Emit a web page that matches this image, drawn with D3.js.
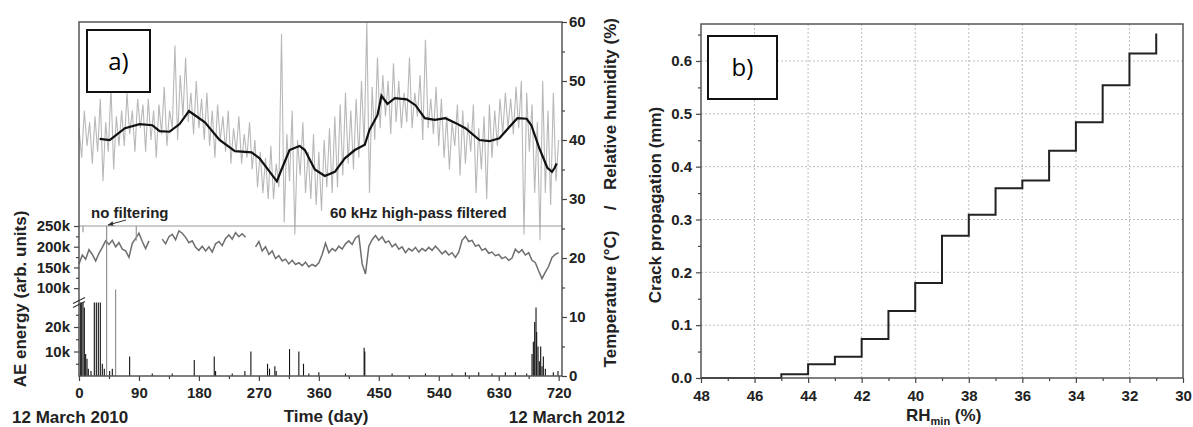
<!DOCTYPE html>
<html>
<head>
<meta charset="utf-8">
<script src="https://cdn.jsdelivr.net/npm/d3@7"></script>
<style>
  body { margin: 0; background: #fff; }
  svg { display: block; font-family: "Liberation Sans", Arial, sans-serif; }
  .tick text { font-weight: bold; font-size: 15px; fill: #222; }
  .tick line { stroke: #444; stroke-width: 1.2; }
  .domain { display: none; }
  .title { font-weight: bold; font-size: 17px; fill: #222; }
</style>
</head>
<body>
<svg id="chart" width="1193" height="427"></svg>
<script>
// ---- panel a: relative humidity (raw, every 4 days from day 0)
var rhRawValues = [
  42, 37, 45, 39, 43, 36, 44, 38,
  47, 33, 43, 38, 49, 35, 44, 39,
  45, 39, 48, 41, 45, 38, 47, 42,
  46, 38, 47, 40, 45, 37, 46, 41,
  49, 39, 45, 42, 56, 40, 51, 44,
  54, 43, 48, 41, 50, 42, 47, 40,
  48, 39, 45, 37, 46, 40, 44, 38,
  45, 36, 42, 38, 44, 36, 41, 37,
  43, 35, 40, 32, 38, 31, 37, 30,
  39, 30, 36, 32, 58, 26, 41, 33,
  45, 24, 40, 34, 43, 31, 38, 30,
  41, 29, 38, 28, 40, 32, 42, 31,
  44, 32, 46, 34, 48, 36, 45, 35,
  47, 37, 50, 39, 60, 31, 49, 40,
  54, 42, 51, 44, 50, 41, 53, 43,
  50, 42, 48, 43, 54, 42, 48, 44,
  51, 40, 57, 42, 47, 41, 49, 39,
  47, 37, 44, 35, 43, 39, 46, 34,
  45, 36, 43, 38, 46, 31, 42, 35,
  44, 30, 46, 37, 45, 39, 47, 41,
  48, 42, 47, 41, 49, 42, 50, 24,
  48, 38, 46, 31, 43, 23, 50, 31,
  45, 29, 48, 33, 40
];
var rhRawDays = d3.range(0, 721, 4);

// smoothed relative humidity
var rhSmoothDays = [31, 46, 69, 91, 110, 121, 136, 151, 165, 174, 189, 211, 234, 259, 271,
  297, 304, 316, 331, 339, 354, 369, 384, 399, 414, 429, 436, 448, 454, 463, 474, 492, 505,
  519, 534, 550, 565, 580, 601, 616, 631, 646, 658, 672, 679, 691, 703, 710, 714, 717];
var rhSmoothValues = [40.2, 40.0, 42.0, 42.7, 42.5, 41.5, 41.4, 42.7, 44.9, 44.2, 43.0, 40.0,
  38.1, 37.9, 36.9, 33.0, 35.0, 38.3, 39.0, 38.3, 35.0, 33.9, 34.6, 36.9, 38.3, 39.2, 41.7,
  44.2, 47.5, 46.1, 47.1, 46.9, 45.9, 43.7, 43.4, 43.7, 42.9, 42.0, 40.0, 39.8, 40.3, 42.2,
  43.7, 43.6, 42.5, 38.6, 35.3, 34.6, 35.3, 36.0];

// temperature (every 5 days, null = no data)
var tempValues = [
  19.0, 20.5, 19.8, 21.4, 20.6, 19.5, 20.8, 21.8, 22.9, 22.3,
  23.0, 21.9, 22.6, 21.5, 21.2, 20.1, 22.5, 23.3, 24.2, 22.8,
  21.6, 22.9, null, null, null, 23.2, 22.4, 23.6, 24.0, 23.1,
  24.6, 24.2, 23.5, 22.6, 22.9, 21.8, 21.3, 22.0, 21.2, 21.9,
  21.0, 22.4, 22.8, 22.1, 23.3, 23.9, 23.2, 24.3, 23.6, 24.1,
  23.5, null, null, 21.9, 22.8, 21.2, 21.9, 20.6, 21.2, 19.9,
  20.4, 19.5, 19.8, 19.0, 19.6, 18.9, 19.2, 18.7, 19.3, 18.5,
  18.9, 18.6, 19.2, 20.6, 22.5, 20.9, 21.6, 21.2, 22.0, 21.5,
  22.4, 22.9, 22.3, 23.4, 23.8, 19.0, 17.3, 22.0, 23.1, 23.8,
  23.0, 23.6, 22.6, 22.9, 21.9, 22.4, 21.5, 21.9, 20.9, 21.6,
  21.2, 21.8, 21.0, 21.6, 21.2, 21.8, 21.3, 22.0, 21.4, 20.7,
  21.2, 20.5, 20.9, 20.1, 21.0, 23.0, 23.7, 22.8, 23.0, 22.0,
  22.2, 21.3, 21.6, 20.8, 21.0, 20.4, 20.6, 19.9, 20.2, 19.6,
  20.0, 21.5, 20.9, 21.4, 20.5, 20.9, 19.6, 19.2, 17.8, 16.5,
  17.6, 18.6, 20.1, 20.6, 20.9
];
var tempDays = d3.range(0, 721, 5);

// AE energy spikes (k arb. units)
var aeDays = [2, 4, 6, 8, 10, 12, 14, 18, 23, 26, 29, 32, 35, 38, 41.5, 46, 50,
  55, 76, 110, 140, 173, 203, 205, 230, 249, 258, 283, 286, 294, 296, 316, 330, 337, 345, 360,
  400, 428, 429, 470, 520, 560, 580, 600, 620, 640, 655, 672, 680, 682, 684, 686, 687, 689,
  691, 693, 695, 697, 700, 712, 719];
var aeValues = [30, 30, 30, 28, 9, 7, 3, 2, 30, 30, 30, 30, 5, 3, 250, 2, 3,
  97, 8, 1, 1, 6.5, 8, 2, 1, 2, 10, 5, 3, 4, 2, 11, 10, 5, 1, 1.5, 1, 11.5, 10, 1, 1, 1, 1.5,
  1.5, 1, 1.5, 1.5, 1, 9, 14, 22, 28, 18, 12, 6, 12, 4, 8, 3, 1.5, 2];

var filterMarkDays = [6, 86];
var filterMarkLow = [235, 215];

var dayTicks = [0, 90, 180, 270, 360, 450, 540, 630, 720];
var rightTicks = [0, 10, 20, 30, 40, 50, 60];
var aeTicks = [10, 20, 100, 150, 200, 250];

// ---- panel b: crack propagation vs RH_min
var rhMin = [48, 45, 44, 43, 42, 41, 40, 39, 38, 37, 36, 35, 34, 33, 32, 31];
var crack = [0, 0.007, 0.026, 0.040, 0.074, 0.127, 0.180, 0.269, 0.309, 0.359, 0.374, 0.430,
  0.484, 0.554, 0.614, 0.652];
var rhTicks = [48, 46, 44, 42, 40, 38, 36, 34, 32, 30];
var crackTicks = [0, 0.1, 0.2, 0.3, 0.4, 0.5, 0.6];

(function () {
  'use strict';

  var svg = d3.select('#chart');
  var frameColor = '#555';

  function minorAxis(axis, vals, size) {
    return axis.tickValues(vals).tickSize(size).tickFormat('');
  }

  // ================= panel a =================
  var x = d3.scaleLinear().domain([0, 725]).range([79, 562]);
  var y = d3.scaleLinear().domain([0, 60]).range([376, 22]);
  var yAE = d3.scaleLinear().domain([0, 30, 75, 250]).range([376, 302.5, 298.5, 226]);

  var ga = svg.append('g');

  var rawLine = d3.line()
    .x(function (d, i) { return x(rhRawDays[i]); })
    .y(function (d) { return y(d); });
  ga.append('path')
    .attr('d', rawLine(rhRawValues))
    .attr('fill', 'none')
    .attr('stroke', '#b8b8b8')
    .attr('stroke-width', 1.1);

  var tempLine = d3.line()
    .defined(function (d) { return d !== null; })
    .x(function (d, i) { return x(tempDays[i]); })
    .y(function (d) { return y(d); });
  ga.append('path')
    .attr('d', tempLine(tempValues))
    .attr('fill', 'none')
    .attr('stroke', '#6e6e6e')
    .attr('stroke-width', 1.5);

  var smoothLine = d3.line()
    .x(function (d, i) { return x(rhSmoothDays[i]); })
    .y(function (d) { return y(d); });
  ga.append('path')
    .attr('d', smoothLine(rhSmoothValues))
    .attr('fill', 'none')
    .attr('stroke', '#111')
    .attr('stroke-width', 2.2);

  // 250k reference line between filtering regimes
  ga.append('line')
    .attr('x1', x(0)).attr('x2', x(725))
    .attr('y1', yAE(250)).attr('y2', yAE(250))
    .attr('stroke', '#999').attr('stroke-width', 1.2);
  filterMarkDays.forEach(function (d, i) {
    ga.append('line')
      .attr('x1', x(d)).attr('x2', x(d))
      .attr('y1', yAE(250)).attr('y2', yAE(filterMarkLow[i]))
      .attr('stroke', '#999').attr('stroke-width', 1.2);
  });

  // AE energy bars
  ga.selectAll('.ae')
    .data(aeValues)
    .enter()
    .append('line')
    .attr('class', 'ae')
    .attr('x1', function (d, i) { return x(aeDays[i]); })
    .attr('x2', function (d, i) { return x(aeDays[i]); })
    .attr('y1', yAE(0))
    .attr('y2', function (d) { return yAE(d); })
    .attr('stroke', function (d) { return d > 30 ? '#888' : '#111'; })
    .attr('stroke-width', 1.1);

  // frame
  ga.append('rect')
    .attr('x', 79).attr('y', 22).attr('width', 483).attr('height', 354)
    .attr('fill', 'none').attr('stroke', frameColor).attr('stroke-width', 1.5);

  // axes
  ga.append('g')
    .attr('transform', 'translate(0,376)')
    .call(d3.axisBottom(x).tickValues(dayTicks).tickSize(5).tickPadding(6));
  ga.append('g')
    .attr('transform', 'translate(0,376)')
    .call(minorAxis(d3.axisBottom(x), d3.range(45, 721, 90), 3));

  ga.append('g')
    .attr('transform', 'translate(562,0)')
    .call(d3.axisRight(y).tickValues(rightTicks).tickSize(5).tickPadding(2));
  ga.append('g')
    .attr('transform', 'translate(562,0)')
    .call(minorAxis(d3.axisRight(y), d3.range(5, 60, 10), 3));

  ga.append('g')
    .attr('transform', 'translate(79,0)')
    .call(d3.axisLeft(yAE).tickValues(aeTicks).tickSize(5).tickPadding(4)
      .tickFormat(function (d) { return d + 'k'; }));
  ga.append('g')
    .attr('transform', 'translate(79,0)')
    .call(minorAxis(d3.axisLeft(yAE), [5, 15, 25, 125, 175, 225], 3));

  // axis break marks
  [0, 4].forEach(function (off) {
    ga.append('line')
      .attr('x1', 73).attr('x2', 85)
      .attr('y1', yAE(52) + 3 + off).attr('y2', yAE(52) - 3 + off)
      .attr('stroke', '#333').attr('stroke-width', 1.2);
  });

  // annotations
  ga.append('text').attr('class', 'title').attr('x', 91).attr('y', 218)
    .style('font-size', '15px').text('no filtering');
  ga.append('text').attr('class', 'title').attr('x', 330).attr('y', 218)
    .style('font-size', '15px').text('60 kHz high-pass filtered');
  svg.append('defs').append('marker')
    .attr('id', 'arr').attr('viewBox', '0 0 10 10').attr('refX', 9).attr('refY', 5)
    .attr('markerWidth', 6).attr('markerHeight', 6).attr('orient', 'auto')
    .append('path').attr('d', 'M0,1L10,5L0,9Z').attr('fill', '#333');
  ga.append('line')
    .attr('x1', 126).attr('y1', 220).attr('x2', 108).attr('y2', 225)
    .attr('stroke', '#333').attr('stroke-width', 1).attr('marker-end', 'url(#arr)');

  // titles
  ga.append('text').attr('class', 'title').attr('text-anchor', 'middle')
    .attr('transform', 'translate(26,299) rotate(-90)').text('AE energy (arb. units)');
  ga.append('text').attr('class', 'title').attr('text-anchor', 'middle')
    .attr('transform', 'translate(616,104) rotate(-90)').text('Relative humidity (%)');
  ga.append('text').attr('class', 'title').attr('text-anchor', 'middle')
    .attr('transform', 'translate(616,208) rotate(-90)').text('/');
  ga.append('text').attr('class', 'title').attr('text-anchor', 'middle')
    .attr('transform', 'translate(616,299) rotate(-90)').text('Temperature (°C)');
  ga.append('text').attr('class', 'title').attr('text-anchor', 'middle')
    .attr('x', 326).attr('y', 422).text('Time (day)');
  ga.append('text').attr('class', 'title').attr('x', 12).attr('y', 423).text('12 March 2010');
  ga.append('text').attr('class', 'title').attr('text-anchor', 'end')
    .attr('x', 625).attr('y', 423).text('12 March 2012');

  // label box
  ga.append('rect').attr('x', 87).attr('y', 30).attr('width', 63).attr('height', 62)
    .attr('fill', '#fff').attr('stroke', '#111').attr('stroke-width', 2);
  ga.append('text').attr('x', 118.5).attr('y', 70).attr('text-anchor', 'middle')
    .style('font-size', '24px').style('font-family', '"Open Sans", sans-serif').text('a)');

  // ================= panel b =================
  var xb = d3.scaleLinear().domain([48, 30]).range([701, 1183]);
  var yb = d3.scaleLinear().domain([0, 0.67]).range([378, 24]);
  var gb = svg.append('g');

  // grid
  gb.selectAll('.gx')
    .data(d3.range(46, 31, -2))
    .enter().append('line')
    .attr('x1', function (d) { return xb(d); }).attr('x2', function (d) { return xb(d); })
    .attr('y1', 24).attr('y2', 378)
    .attr('stroke', '#bdbdbd').attr('stroke-width', 1).attr('stroke-dasharray', '2,2');
  gb.selectAll('.gy')
    .data(crackTicks.slice(1))
    .enter().append('line')
    .attr('x1', 701).attr('x2', 1183)
    .attr('y1', function (d) { return yb(d); }).attr('y2', function (d) { return yb(d); })
    .attr('stroke', '#bdbdbd').attr('stroke-width', 1).attr('stroke-dasharray', '2,2');

  var stepLine = d3.line()
    .curve(d3.curveStepAfter)
    .x(function (d, i) { return xb(rhMin[i]); })
    .y(function (d) { return yb(d); });
  gb.append('path')
    .attr('d', stepLine(crack))
    .attr('fill', 'none')
    .attr('stroke', '#222')
    .attr('stroke-width', 2);

  gb.append('rect')
    .attr('x', 701).attr('y', 24).attr('width', 482).attr('height', 354)
    .attr('fill', 'none').attr('stroke', frameColor).attr('stroke-width', 1.5);

  gb.append('g')
    .attr('transform', 'translate(0,378)')
    .call(d3.axisBottom(xb).tickValues(rhTicks).tickSize(5).tickPadding(7));
  gb.append('g')
    .attr('transform', 'translate(0,378)')
    .call(minorAxis(d3.axisBottom(xb), d3.range(47, 30, -2), 3));
  gb.append('g')
    .attr('transform', 'translate(701,0)')
    .call(d3.axisLeft(yb).tickValues(crackTicks).tickSize(5).tickPadding(4)
      .tickFormat(d3.format('.1f')));
  gb.append('g')
    .attr('transform', 'translate(701,0)')
    .call(minorAxis(d3.axisLeft(yb), [0.05, 0.15, 0.25, 0.35, 0.45, 0.55, 0.65], 3));

  gb.append('text').attr('class', 'title').attr('text-anchor', 'middle')
    .attr('transform', 'translate(661,205) rotate(-90)').text('Crack propagation (mm)');
  var xt = gb.append('text').attr('class', 'title').attr('x', 906).attr('y', 421);
  xt.append('tspan').text('RH');
  xt.append('tspan').attr('dy', 4).style('font-size', '11px').text('min');
  xt.append('tspan').attr('dy', -4).text(' (%)');

  gb.append('rect').attr('x', 708).attr('y', 36).attr('width', 69).attr('height', 63)
    .attr('fill', '#fff').attr('stroke', '#111').attr('stroke-width', 2);
  gb.append('text').attr('x', 742.5).attr('y', 76).attr('text-anchor', 'middle')
    .style('font-size', '24px').style('font-family', '"Open Sans", sans-serif').text('b)');
})();
</script>
</body>
</html>
